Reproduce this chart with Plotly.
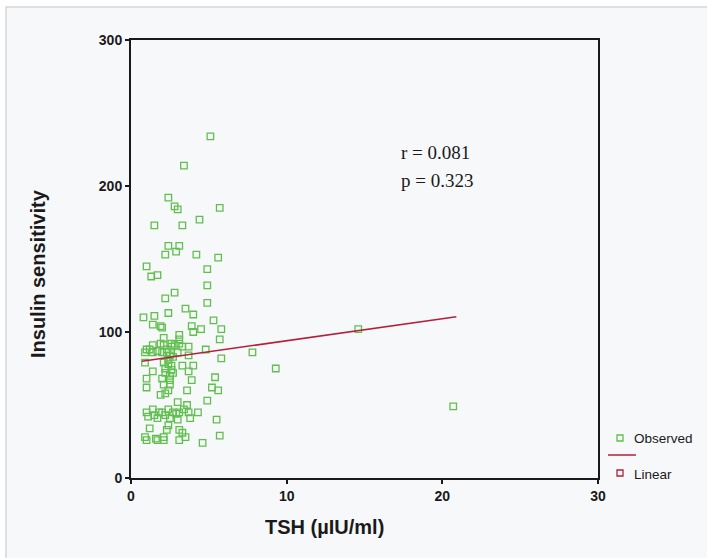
import plotly.graph_objects as go

# Observed points (TSH, insulin sensitivity)
tsh = [5.1, 3.4, 2.4, 2.8, 3.0, 5.7, 4.4, 1.5, 3.3,
       2.4, 3.1, 2.2, 2.9, 4.2, 5.6, 1.0, 4.9, 1.3, 1.7, 4.9, 2.8, 2.2, 4.9, 3.5, 2.4,
       4.0, 0.8, 1.5, 5.3, 1.4, 1.9, 2.0, 3.9, 4.5, 4.0, 5.8, 3.1, 3.1, 2.1, 5.7,
       1.0, 1.7, 2.6, 3.3, 3.7, 4.8, 7.8, 5.8, 9.3, 14.6, 20.7,
       1.4, 2.1, 3.1, 0.9, 1.4, 2.0, 2.5, 3.0, 3.7, 0.9, 2.1, 2.6, 3.3, 4.0,
       1.4, 2.2, 2.7, 3.7, 1.0, 2.0, 2.5, 3.9, 5.4, 1.0, 2.1, 2.4, 3.6, 5.2, 5.6,
       1.9, 2.2, 4.9, 3.0, 3.6, 1.0, 1.4, 2.0, 2.4, 2.7, 3.1, 3.7, 4.3,
       1.1, 1.7, 2.5, 3.0, 3.8, 2.4, 5.5, 1.2, 2.3, 3.1, 3.3, 0.9, 5.7,
       1.0, 1.7, 2.1, 3.1, 3.5, 4.6, 2.4, 2.2, 2.5, 2.3, 2.8,
       2.5, 2.6, 2.4, 2.7, 2.3, 2.6, 1.8, 2.2, 2.9, 1.5, 1.2, 1.9, 3.4, 2.1, 1.6]
insulin = [234, 214, 192, 186, 184, 185, 177, 173, 173,
           159, 159, 153, 155, 153, 151, 145, 143, 138, 139, 132, 127, 123, 120, 116, 113,
           112, 110, 111, 108, 105, 104, 103, 104, 102, 100, 102, 98, 95, 96, 95,
           88, 87, 90, 90, 90, 88, 86, 82, 75, 102, 49,
           91, 91, 92, 86, 86, 86, 84, 86, 84, 79, 79, 77, 77, 77,
           73, 72, 72, 73, 68, 68, 67, 67, 69, 62, 64, 60, 60, 62, 60,
           57, 58, 53, 52, 50, 45, 47, 45, 47, 45, 45, 45, 45,
           42, 41, 41, 40, 41, 36, 40, 34, 33, 33, 31, 28, 29,
           26, 26, 26, 26, 28, 24, 81, 75, 64, 88, 91,
           70, 74, 78, 83, 86, 92, 45, 43, 44, 43, 88, 92, 47, 28, 27]

# Linear fit line endpoints
fit_x = [0.7, 20.9]
fit_y = [80, 110.5]

x_ticks = [0, 10, 20, 30]
y_ticks = [0, 100, 200, 300]

green = "#5fc04d"
red = "#b3203c"
ink = "#1a1a1a"

fig = go.Figure()
fig.add_trace(go.Scatter(x=tsh, y=insulin, mode="markers",
                         marker=dict(symbol="square-open", size=6.5, color=green,
                                     line=dict(width=1.3, color=green)),
                         showlegend=False, cliponaxis=False))
fig.add_trace(go.Scatter(x=fit_x, y=fit_y, mode="lines",
                         line=dict(color=red, width=1.6), showlegend=False))

tickfont = dict(family="Liberation Sans", size=14, color=ink, weight="bold")
fig.update_xaxes(range=[0, 30], tickvals=x_ticks, showgrid=False, zeroline=False,
                 showline=True, linecolor=ink, linewidth=2, mirror=True,
                 ticks="outside", ticklen=4, tickwidth=2, tickcolor=ink,
                 tickfont=tickfont)
fig.update_yaxes(range=[0, 300], tickvals=y_ticks, showgrid=False, zeroline=False,
                 showline=True, linecolor=ink, linewidth=2, mirror=True,
                 ticks="outside", ticklen=4, tickwidth=2, tickcolor=ink,
                 tickfont=tickfont)

W, H = 707, 558
L, R, T, B = 131, 598, 40, 478
def px(x):
    return (x - L) / (R - L)
def py(y):
    return (B - y) / (B - T)

shapes = [
    dict(type="rect", xref="paper", yref="paper", x0=px(6), x1=px(720), y0=py(570), y1=py(7),
         fillcolor="#f7f8fa", line=dict(color="#d6d6d6", width=1.5), layer="below"),
    dict(type="rect", xref="paper", yref="paper", x0=px(617), x1=px(623), y0=py(441), y1=py(435),
         fillcolor="rgba(0,0,0,0)", line=dict(color=green, width=1.3)),
    dict(type="line", xref="paper", yref="paper", x0=px(608), x1=px(636), y0=py(455), y1=py(455),
         line=dict(color=red, width=1.5)),
    dict(type="rect", xref="paper", yref="paper", x0=px(617), x1=px(623), y0=py(476), y1=py(470),
         fillcolor="rgba(0,0,0,0)", line=dict(color=red, width=1.3)),
]

annotations = [
    dict(text="r = 0.081", x=px(399), y=py(152), xref="paper", yref="paper", xanchor="left",
         yanchor="middle", showarrow=False, font=dict(family="Liberation Serif", size=19, color=ink)),
    dict(text="p = 0.323", x=px(399), y=py(180), xref="paper", yref="paper", xanchor="left",
         yanchor="middle", showarrow=False, font=dict(family="Liberation Serif", size=19, color=ink)),
    dict(text="<b>Insulin sensitivity</b>", x=px(38), y=py(274), xref="paper", yref="paper",
         textangle=-90, showarrow=False, xanchor="center", yanchor="middle",
         font=dict(family="Liberation Sans", size=20, color=ink)),
    dict(text="<b>TSH (µIU/ml)</b>", x=px(324), y=py(527), xref="paper", yref="paper",
         showarrow=False, xanchor="center", yanchor="middle",
         font=dict(family="Liberation Sans", size=20, color=ink)),
    dict(text="Observed", x=px(632), y=py(438), xref="paper", yref="paper", xanchor="left",
         yanchor="middle", showarrow=False, font=dict(family="Liberation Sans", size=13.5, color=ink)),
    dict(text="Linear", x=px(632), y=py(474), xref="paper", yref="paper", xanchor="left",
         yanchor="middle", showarrow=False, font=dict(family="Liberation Sans", size=13.5, color=ink)),
]

fig.update_layout(width=W, height=H, margin=dict(l=L, r=W - R, t=T, b=H - B),
                  paper_bgcolor="white", plot_bgcolor="rgba(0,0,0,0)",
                  shapes=shapes, annotations=annotations, showlegend=False)
fig.write_html("out.html", config={"displayModeBar": False},
               post_script="document.body.style.margin='0';document.body.style.padding='0';")
